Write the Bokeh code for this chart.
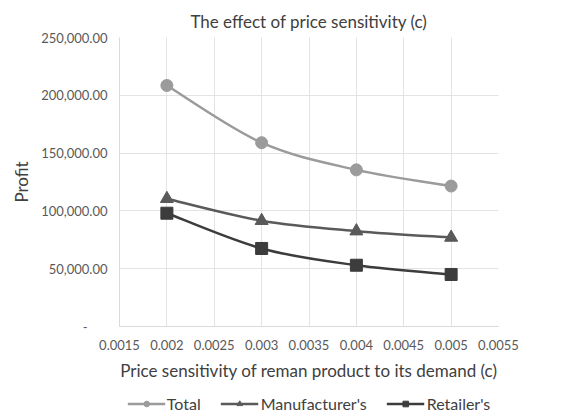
from bokeh.plotting import figure
from bokeh.layouts import column
from bokeh.models import (FixedTicker, CustomJSTickFormatter, Legend, LegendItem,
                          ColumnDataSource)
from bokeh.embed import file_html
from bokeh.resources import INLINE

# ---- data ----
c_values = [0.002, 0.003, 0.004, 0.005]
total = [208500, 159000, 135500, 121500]
manufacturer = [110500, 91500, 82500, 77000]
retailer = [98000, 67500, 53000, 45000]
x_ticks = [0.0015, 0.002, 0.0025, 0.003, 0.0035, 0.004, 0.0045, 0.005, 0.0055]
y_ticks = [0, 50000, 100000, 150000, 200000, 250000]
series_names = ["Total", "Manufacturer's", "Retailer's"]

FONT = "Lato"

p = figure(width=568, height=390, output_backend="svg", toolbar_location=None,
           x_range=(0.0015, 0.0055), y_range=(0, 250000),
           min_border_left=119, min_border_right=70, min_border_top=37,
           min_border_bottom=64)
p.outline_line_color = None
p.background_fill_color = "white"
p.border_fill_color = "white"

p.title.text = "The effect of price sensitivity (c)"
p.title.align = "center"
p.title.vertical_align = "middle"
p.title.text_font = FONT
p.title.text_font_size = "17px"
p.title.text_font_style = "normal"
p.title.text_color = "#404040"

# axes
p.xaxis.ticker = FixedTicker(ticks=x_ticks)
p.yaxis.ticker = FixedTicker(ticks=y_ticks)
p.xaxis.formatter = CustomJSTickFormatter(code="return String(parseFloat(tick.toFixed(4)));")
p.yaxis.formatter = CustomJSTickFormatter(code="""
if (Math.abs(tick) < 1e-9) { return "-      "; }
return tick.toLocaleString('en-US', {minimumFractionDigits: 2, maximumFractionDigits: 2});
""")
for ax in (p.xaxis, p.yaxis):
    ax.major_tick_line_color = None
    ax.minor_tick_line_color = None
    ax.axis_line_color = "#d9d9d9"
    ax.major_label_text_font = FONT
    ax.major_label_text_font_size = "13px"
    ax.major_label_text_color = "#595959"
    ax.axis_label_text_font = FONT
    ax.axis_label_text_font_size = "17px"
    ax.axis_label_text_font_style = "normal"
    ax.axis_label_text_color = "#404040"
p.xaxis.axis_label = "Price sensitivity of reman product to its demand (c)"
p.yaxis.axis_label = "Profit"
p.xaxis.major_label_standoff = 7
p.yaxis.major_label_standoff = 6
p.xaxis.axis_label_standoff = 7
p.yaxis.axis_label_standoff = 6

p.xgrid.ticker = FixedTicker(ticks=x_ticks)
p.ygrid.ticker = FixedTicker(ticks=y_ticks)
p.grid.grid_line_color = "#e3e3e3"
p.grid.grid_line_width = 1

# smooth lines (Catmull-Rom style bezier through data points)
def smooth(xs, ys):
    n = len(xs)
    x0, y0, x1, y1, cx0, cy0, cx1, cy1 = [], [], [], [], [], [], [], []
    for i in range(n - 1):
        xa, ya = xs[max(i - 1, 0)], ys[max(i - 1, 0)]
        xb, yb = xs[i], ys[i]
        xc, yc = xs[i + 1], ys[i + 1]
        xd, yd = xs[min(i + 2, n - 1)], ys[min(i + 2, n - 1)]
        x0.append(xb); y0.append(yb); x1.append(xc); y1.append(yc)
        cx0.append(xb + (xc - xa) / 6); cy0.append(yb + (yc - ya) / 6)
        cx1.append(xc - (xd - xb) / 6); cy1.append(yc - (yd - yb) / 6)
    return ColumnDataSource(dict(x0=x0, y0=y0, x1=x1, y1=y1,
                                 cx0=cx0, cy0=cy0, cx1=cx1, cy1=cy1))

styles = [("#9b9b9b", "circle", 12), ("#5a5a5a", "triangle", 13), ("#3c3c3c", "square", 12)]
values = [total, manufacturer, retailer]

for vals, (color, marker, size) in zip(values, styles):
    p.bezier(x0="x0", y0="y0", x1="x1", y1="y1", cx0="cx0", cy0="cy0",
             cx1="cx1", cy1="cy1", source=smooth(c_values, vals),
             line_color=color, line_width=2.5)
    p.scatter(c_values, vals, marker=marker, size=size,
              fill_color=color, line_color=color)

# legend strip (separate figure so it can sit below the axis title)
p2 = figure(width=568, height=26, output_backend="svg", toolbar_location=None,
            x_range=(0, 1), y_range=(-1, 0), min_border=0)
p2.axis.visible = False
p2.grid.visible = False
p2.outline_line_color = None
p2.border_fill_color = "white"

items = []
for name, vals, (color, marker, size) in zip(series_names, values, styles):
    lr = p2.line(c_values, vals, line_color=color, line_width=2.5)
    sr = p2.scatter(c_values, vals, marker=marker, size=size - 2,
                    fill_color=color, line_color=color)
    items.append(LegendItem(label=name, renderers=[lr, sr]))

legend = Legend(items=items, orientation="horizontal", location="center",
                label_text_font=FONT, label_text_font_size="16px",
                label_text_color="#404040", glyph_width=38, glyph_height=14,
                spacing=20, label_standoff=2, padding=2, margin=0,
                border_line_color=None, background_fill_alpha=0)
p2.add_layout(legend, "center")

layout = column(p, p2, spacing=0)
open("out.html", "w").write(file_html(layout, INLINE))
